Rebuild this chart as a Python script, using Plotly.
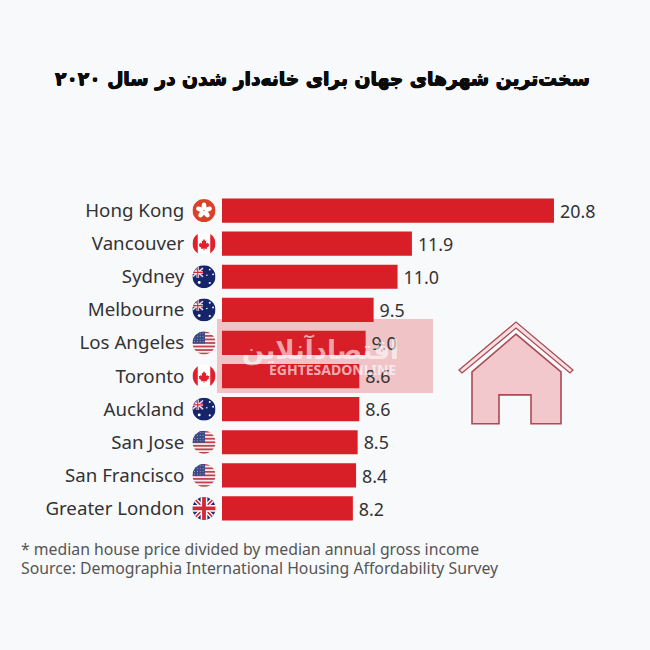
import base64
import plotly.graph_objects as go

cities = ["Hong Kong", "Vancouver", "Sydney", "Melbourne", "Los Angeles", "Toronto",
          "Auckland", "San Jose", "San Francisco", "Greater London"]
ratios = [20.8, 11.9, 11.0, 9.5, 9.0, 8.6, 8.6, 8.5, 8.4, 8.2]
flags = ["hk", "ca", "au", "au", "us", "ca", "au", "us", "us", "uk"]
title = "سخت‌ترین شهرهای جهان برای خانه‌دار شدن در سال ۲۰۲۰"
note1 = "* median house price divided by median annual gross income"
note2 = "Source: Demographia International Housing Affordability Survey"
brand_fa = "اقتصادآنلاین"
brand_en = "EGHTESADONLINE"

BG = "#f8f9fb"
RED = "#d81e27"
W, H = 650, 650
LEFT, TOP, BOTTOM = 222, 193.5, 525.5
PW, PH = W - LEFT, BOTTOM - TOP


def uri(svg):
    return "data:image/svg+xml;base64," + base64.b64encode(svg.encode()).decode()


def flag_svg(kind):
    if kind == "hk":
        body = '<rect width="48" height="48" fill="#d9412b"/>' + "".join(
            f'<ellipse cx="24" cy="15" rx="5" ry="8" fill="#fff" transform="rotate({a} 24 24)"/>'
            for a in (0, 72, 144, 216, 288))
    elif kind == "ca":
        body = ('<rect width="48" height="48" fill="#fff"/>'
                '<rect width="11" height="48" fill="#e0202c"/><rect x="37" width="11" height="48" fill="#e0202c"/>'
                '<path d="M24 11l3 6 3-1-1 8 4-3 1 3 4 0-2 5 2 1-7 5 1 3-7-1v5h-2v-5l-7 1 1-3-7-5 2-1-2-5 4 0 1-3 4 3-1-8 3 1z" '
                'fill="#e0202c" transform="translate(4.8 4.8) scale(.8)"/>')
    elif kind == "au":
        body = ('<rect width="48" height="48" fill="#16246b"/>'
                '<rect width="22" height="22" y="4" fill="#2a3580"/>'
                '<path d="M0 6L22 24M22 6L0 24" stroke="#f4dfe2" stroke-width="3"/>'
                '<path d="M11 4V26M0 15H22" stroke="#fff" stroke-width="5"/>'
                '<path d="M11 4V26M0 15H22" stroke="#d8283a" stroke-width="2.5"/>'
                + "".join(f'<circle cx="{x}" cy="{y}" r="{r}" fill="#fff"/>'
                          for x, y, r in ((36, 9, 2), (43, 19, 2), (30, 21, 1.6), (36, 37, 2.2), (14, 36, 3))))
    elif kind == "us":
        stripes = "".join(f'<rect y="{i * 7.4:.1f}" width="48" height="3.7" fill="#c0424f"/>' for i in range(7))
        body = ('<rect width="48" height="48" fill="#f6eef0"/>' + stripes +
                '<rect width="26" height="25" fill="#3a4a86"/>' +
                "".join(f'<circle cx="{x}" cy="{y}" r="1" fill="#dfe3f0"/>'
                        for x in (4, 10, 16, 22) for y in (4, 10, 16, 21)))
    else:
        body = ('<rect width="48" height="48" fill="#1d2c6f"/>'
                '<path d="M0 0L48 48M48 0L0 48" stroke="#fff" stroke-width="9"/>'
                '<path d="M0 0L48 48M48 0L0 48" stroke="#d4283a" stroke-width="3.5"/>'
                '<path d="M24 0V48M0 24H48" stroke="#fff" stroke-width="14"/>'
                '<path d="M24 0V48M0 24H48" stroke="#d4283a" stroke-width="8"/>')
    return ('<svg xmlns="http://www.w3.org/2000/svg" width="48" height="48" viewBox="0 0 48 48">'
            '<defs><clipPath id="c"><circle cx="24" cy="24" r="24"/></clipPath></defs>'
            f'<g clip-path="url(#c)">{body}</g></svg>')


house_svg = ('<svg xmlns="http://www.w3.org/2000/svg" width="120" height="120" viewBox="0 0 120 120">'
             '<path d="M60 14L16 52V104H43V75H75V104H105V52Z" fill="#f2c8cc" stroke="#a94a54" stroke-width="1.6"/>'
             '<path d="M3 50L60 2L117 50L114 53L60 8L6 53Z" fill="#f7dfe1" stroke="#a94a54" stroke-width="1.3"/>'
             '</svg>')

fig = go.Figure(go.Bar(
    x=ratios, y=cities, orientation="h",
    marker=dict(color=RED, line=dict(width=0)),
    width=0.73,
    text=[f"\u2009{v:.1f}" for v in ratios], textposition="outside", cliponaxis=False,
    textfont=dict(family="Noto Sans", size=18.5, color="#333"),
    hoverinfo="skip",
))


def fx(v):
    return (v - LEFT) / PW


def fy(v):
    return (BOTTOM - v) / PH


images = []
for i, f in enumerate(flags):
    images.append(dict(source=uri(flag_svg(f)), xref="paper", yref="paper",
                       x=fx(204), y=1 - (i + 0.5) / len(flags),
                       sizex=23 / PW, sizey=23 / PH, xanchor="center", yanchor="middle",
                       sizing="stretch", layer="above"))
images.append(dict(source=uri(house_svg), xref="paper", yref="paper",
                   x=fx(456), y=fy(320), sizex=120 / PW, sizey=120 / PH,
                   xanchor="left", yanchor="top", sizing="stretch", layer="above"))

shapes = [dict(type="rect", xref="paper", yref="paper",
               x0=fx(217), x1=fx(433), y0=fy(393), y1=fy(319),
               fillcolor="#f0c3c7", line=dict(width=0), layer="below")]


def note(text, x, y, size, color, anchor="left", family="Noto Sans", shadow=None):
    font = dict(family=family, size=size, color=color)
    if shadow:
        font["shadow"] = shadow
    return dict(text=text, xref="paper", yref="paper", x=fx(x), y=fy(y),
                xanchor=anchor, yanchor="middle", showarrow=False, font=font)


annotations = [
    note("<b>" + title + "</b>", 322, 78, 18.7, "#0b0b0b", "center", "DejaVu Sans",
         shadow="0.5px 0 0 #0b0b0b, -0.5px 0 0 #0b0b0b, 0 0.5px 0 #0b0b0b, 0 -0.5px 0 #0b0b0b"),
    note(note1, 19, 550, 15.8, "#555"),
    note(note2, 19, 569, 15.8, "#555"),
    note("<b>" + brand_fa + "</b>", 320, 350, 26, "rgba(255,255,255,0.62)", "center", "DejaVu Sans"),
    note("<b>" + brand_en + "</b>", 332, 370, 14, "rgba(255,255,255,0.65)", "center", "Noto Sans"),
]

fig.update_layout(
    width=W, height=H, autosize=False, showlegend=False,
    paper_bgcolor=BG, plot_bgcolor="rgba(0,0,0,0)",
    margin=dict(l=LEFT, r=0, t=TOP, b=H - BOTTOM),
    xaxis=dict(range=[0, PW / 15.96], visible=False, fixedrange=True),
    yaxis=dict(categoryorder="array", categoryarray=cities, autorange=False, range=[9.5, -0.5],
               ticks="outside", ticklen=33, tickcolor="rgba(0,0,0,0)", showline=False, showgrid=False,
               tickfont=dict(family="Noto Sans", size=18.7, color="#333"), fixedrange=True),
    images=images, shapes=shapes, annotations=annotations,
)
fig.write_html("out.html", config=dict(displayModeBar=False),
               post_script="document.body.style.margin='0';document.body.style.background='#f8f9fb';")
